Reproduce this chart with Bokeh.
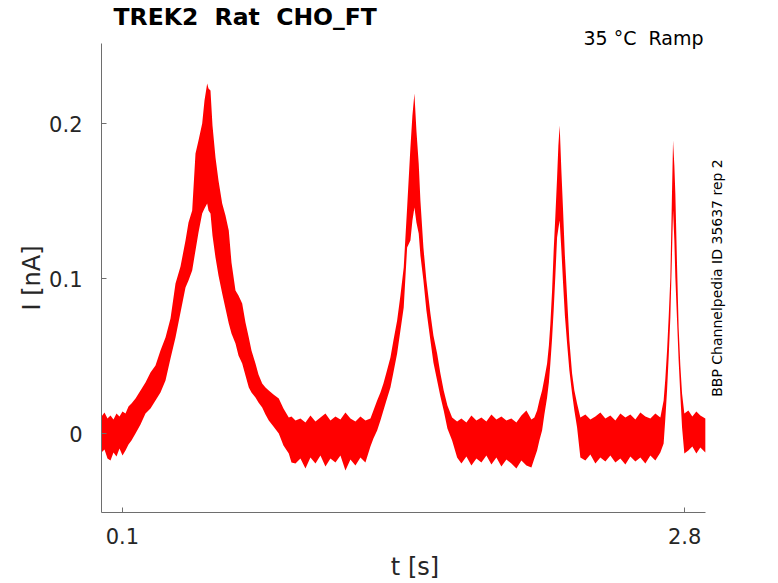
import math
from bokeh.plotting import figure
from bokeh.models import FixedTicker, Label, Range1d, Title
from bokeh.embed import file_html
from bokeh.resources import INLINE

# ---- data: time [s], upper and lower edge of the noisy current band [nA]
time_s = [
    0.0, 0.0144, 0.0288, 0.0432, 0.0576, 0.0720, 0.0864, 0.1008, 0.1152, 0.1296, 0.1440, 0.1633,
    0.1873, 0.2112, 0.2352, 0.2592, 0.2832, 0.3073, 0.3313, 0.3553, 0.3793, 0.4033, 0.4177, 0.4354,
    0.4513, 0.4657, 0.4834, 0.4945, 0.5074, 0.5137, 0.5233, 0.5329, 0.5473, 0.5617, 0.5795, 0.5953,
    0.6111, 0.6241, 0.6433, 0.6577, 0.6755, 0.6913, 0.7072, 0.7201, 0.7393, 0.7537, 0.7715, 0.7873,
    0.8032, 0.8257, 0.8512, 0.8737, 0.8992, 0.9121, 0.9314,
    0.9552, 0.9792, 1.0032, 1.0272, 1.0512, 1.0752, 1.0992, 1.1232, 1.1472, 1.1712, 1.1952, 1.2192,
    1.2432, 1.2672, 1.2912,
    1.3056, 1.3234, 1.3392, 1.3536, 1.3680, 1.3872, 1.4016, 1.4194, 1.4352, 1.4510, 1.4674, 1.4832,
    1.4928, 1.5024, 1.5120, 1.5230, 1.5312, 1.5456, 1.5600, 1.5792, 1.5936, 1.6114, 1.6272, 1.6430,
    1.6608, 1.6834, 1.7074,
    1.728, 1.752, 1.776, 1.800, 1.824, 1.848, 1.872, 1.896, 1.920, 1.944, 1.968, 1.992, 2.016, 2.040,
    2.064, 2.0784,
    2.0914, 2.1024, 2.1154, 2.1264, 2.1394, 2.1480, 2.1552, 2.1634, 2.1710, 2.1792, 2.1874, 2.1936,
    2.1998, 2.2080, 2.2162, 2.2248, 2.2354, 2.2464, 2.2594, 2.2704, 2.2834, 2.2992,
    2.3232, 2.3472, 2.3712, 2.3952, 2.4192, 2.4432, 2.4672, 2.4912, 2.5152, 2.5392, 2.5632, 2.5872,
    2.6112, 2.6352, 2.6592, 2.6832,
    2.6990, 2.7072, 2.7154, 2.7235, 2.7312, 2.7384, 2.7442, 2.7504, 2.7552, 2.7634, 2.7710, 2.7792,
    2.7874, 2.7984,
    2.8176, 2.8368, 2.8560, 2.8752, 2.8992,
]

current_upper = [
    0.0112, 0.0137, 0.0099, 0.0118, 0.0092, 0.0131, 0.0112, 0.0144, 0.0131, 0.0176, 0.0195, 0.0228,
    0.0279, 0.0331, 0.0395, 0.0441, 0.0537, 0.0621, 0.0744, 0.0970, 0.1079, 0.1247, 0.1363, 0.1441,
    0.1808, 0.1892, 0.2002, 0.2150, 0.2260, 0.2228, 0.2215, 0.1989, 0.1783, 0.1634, 0.1486, 0.1408,
    0.1312, 0.1105, 0.0925, 0.0892, 0.0841, 0.0718, 0.0621, 0.0537, 0.0454, 0.0383, 0.0325, 0.0299,
    0.0279, 0.0254, 0.0228, 0.0163, 0.0105, 0.0112, 0.0086,
    0.0099, 0.0073, 0.0118, 0.0079, 0.0105, 0.0131, 0.0086, 0.0112, 0.0092, 0.0137, 0.0099, 0.0079,
    0.0112, 0.0086, 0.0099,
    0.0150, 0.0215, 0.0266, 0.0325, 0.0395, 0.0492, 0.0602, 0.0731, 0.0892, 0.1073, 0.1460, 0.1847,
    0.2054, 0.2195, 0.1957, 0.1744, 0.1505, 0.1202, 0.0989, 0.0776, 0.0634, 0.0518, 0.0389, 0.0279,
    0.0183, 0.0105, 0.0079,
    0.0099, 0.0073, 0.0118, 0.0086, 0.0105, 0.0079, 0.0125, 0.0092, 0.0112, 0.0086, 0.0099, 0.0073,
    0.0118, 0.0150, 0.0092, 0.0105,
    0.0150, 0.0215, 0.0279, 0.0357, 0.0454, 0.0570, 0.0712, 0.0925, 0.1183, 0.1408, 0.1654, 0.1860,
    0.1989, 0.1699, 0.1441, 0.1150, 0.0880, 0.0602, 0.0389, 0.0279, 0.0195, 0.0105,
    0.0125, 0.0092, 0.0112, 0.0137, 0.0099, 0.0118, 0.0086, 0.0131, 0.0105, 0.0125, 0.0092, 0.0137,
    0.0112, 0.0099, 0.0131, 0.0105,
    0.0215, 0.0357, 0.0537, 0.0763, 0.1008, 0.1505, 0.1892, 0.1731, 0.1550, 0.1086, 0.0686, 0.0441,
    0.0260, 0.0131,
    0.0150, 0.0112, 0.0144, 0.0118, 0.0099,
]

current_lower = [
    -0.0121, -0.0101, -0.0159, -0.0172, -0.0121, -0.0146, -0.0095, -0.0140, -0.0108, -0.0069, -0.0043, 0.0002,
    0.0060, 0.0131, 0.0163, 0.0215, 0.0266, 0.0344, 0.0486, 0.0621, 0.0783, 0.0944, 0.0989, 0.1054,
    0.1183, 0.1299, 0.1421, 0.1454, 0.1486, 0.1441, 0.1421, 0.1279, 0.1137, 0.1021, 0.0905, 0.0808,
    0.0712, 0.0647, 0.0583, 0.0505, 0.0454, 0.0376, 0.0299, 0.0266, 0.0234, 0.0202, 0.0170, 0.0125,
    0.0086, 0.0047, 0.0002, -0.0075, -0.0127, -0.0185, -0.0192,
    -0.0159, -0.0224, -0.0153, -0.0192, -0.0140, -0.0211, -0.0159, -0.0185, -0.0140, -0.0237, -0.0166, -0.0205,
    -0.0153, -0.0185, -0.0082,
    -0.0030, 0.0021, 0.0086, 0.0150, 0.0215, 0.0299, 0.0395, 0.0518, 0.0666, 0.0815, 0.1202, 0.1247,
    0.1376, 0.1460, 0.1363, 0.1292, 0.1150, 0.0989, 0.0795, 0.0602, 0.0460, 0.0344, 0.0241, 0.0150,
    0.0034, -0.0043, -0.0153,
    -0.0192, -0.0146, -0.0205, -0.0159, -0.0185, -0.0140, -0.0198, -0.0153, -0.0211, -0.0166, -0.0192, -0.0224,
    -0.0172, -0.0205, -0.0217, -0.0159,
    -0.0108, -0.0043, 0.0021, 0.0125, 0.0234, 0.0331, 0.0454, 0.0615, 0.0795, 0.1021, 0.1266, 0.1325,
    0.1376, 0.1183, 0.0970, 0.0763, 0.0583, 0.0408, 0.0260, 0.0150, 0.0041, -0.0153,
    -0.0172, -0.0134, -0.0192, -0.0153, -0.0179, -0.0140, -0.0185, -0.0159, -0.0198, -0.0146, -0.0179, -0.0153,
    -0.0192, -0.0140, -0.0172, -0.0121,
    -0.0063, 0.0099, 0.0279, 0.0505, 0.0750, 0.1118, 0.1441, 0.1247, 0.1008, 0.0731, 0.0473, 0.0247,
    0.0041, -0.0127,
    -0.0108, -0.0082, -0.0127, -0.0088, -0.0121,
]

x_ticks = [0.1, 2.8]
y_ticks = [0, 0.1, 0.2]
y_tick_labels = {0: "0", 0.1: "0.1", 0.2: "0.2"}

# axis extents of the data area
t_min, t_max = 0.0, 2.9
i_min, i_max = -0.0508, 0.2518

title_text = "TREK2\u00a0 Rat\u00a0 CHO_FT"
condition_text = "35 °C\u00a0 Ramp"
source_text = "BBP Channelpedia ID 35637 rep 2"

FONT = "DejaVu Sans"

# the frame reaches a little to the right of the data so the vertical note fits inside it;
# the x axis itself is bounded to the data area
p = figure(width=770, height=583, output_backend="svg", toolbar_location=None,
           x_range=Range1d(t_min, 3.0104), y_range=Range1d(i_min, i_max),
           min_border_left=101, min_border_right=42, min_border_top=43, min_border_bottom=71)
p.outline_line_color = None
p.background_fill_color = "white"
p.border_fill_color = "white"
p.xgrid.visible = False
p.ygrid.visible = False

p.varea(x=time_s, y1=current_lower, y2=current_upper, fill_color="#ff0000")

for ax in (p.xaxis[0], p.yaxis[0]):
    ax.axis_line_color = "#6e6e6e"
    ax.axis_line_width = 1
    ax.major_tick_line_color = "#6e6e6e"
    ax.major_tick_in = 5
    ax.major_tick_out = 0
    ax.minor_tick_line_color = None
    ax.major_label_text_font = FONT
    ax.major_label_text_font_size = "21px"
    ax.major_label_text_color = "#262626"
    ax.axis_label_text_font = FONT
    ax.axis_label_text_font_size = "24px"
    ax.axis_label_text_font_style = "normal"
    ax.axis_label_text_color = "#262626"

p.xaxis.bounds = (t_min, t_max)
p.yaxis.bounds = (i_min, i_max)
p.xaxis.ticker = FixedTicker(ticks=x_ticks)
p.yaxis.ticker = FixedTicker(ticks=y_ticks)
p.yaxis.major_label_overrides = y_tick_labels
p.xaxis.axis_label = "t [s]"
p.yaxis.axis_label = "I [nA]"
p.xaxis.major_label_standoff = 15
p.yaxis.major_label_standoff = 19
p.xaxis.axis_label_standoff = 6
p.yaxis.axis_label_standoff = 0

# main title (outer panel above the frame)
p.title.text = title_text
p.title.align = "left"
p.title.offset = 12
p.title.text_font = FONT
p.title.text_font_size = "23.5px"
p.title.text_font_style = "bold"
p.title.text_color = "black"
p.title.standoff = 0

# condition text, right aligned, closest to the frame
cond = Title(text=condition_text, align="right", offset=25, text_font=FONT,
             text_font_size="19px", text_font_style="normal", text_color="black")
try:
    cond.standoff = -11
except Exception:
    cond.standoff = 0
p.add_layout(cond, "above")

# vertical source note, just right of the data area
p.add_layout(Label(x=2.9528, y=0.1005, text=source_text, text_font=FONT,
                   text_font_size="14px", text_color="black", angle=math.pi / 2,
                   text_align="center", text_baseline="middle"))

open("out.html", "w").write(file_html(p, INLINE))
